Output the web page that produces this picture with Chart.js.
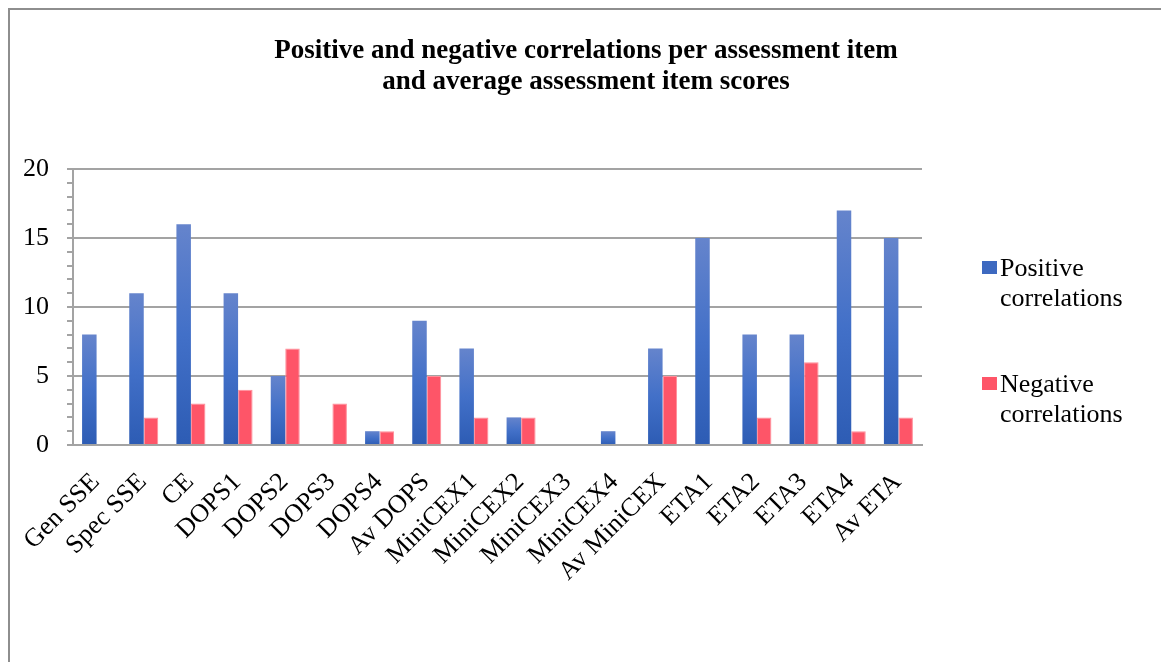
<!DOCTYPE html>
<html>
<head>
<meta charset="utf-8">
<script src="https://cdn.jsdelivr.net/npm/chart.js@4/dist/chart.umd.min.js"></script>
<style>
  html, body { margin: 0; padding: 0; background: #fff; overflow: hidden; }
  #wrap { position: relative; width: 1161px; height: 662px; }
  #frame { position: absolute; left: 8px; top: 8px; width: 1300px; height: 800px; border: 2px solid #8e8e8e; box-sizing: border-box; }
  #HChart { position: absolute; left: 0; top: 0; }
</style>
</head>
<body>
<div id="wrap">
  <div id="frame"></div>
  <canvas id="HChart" width="1161" height="662"></canvas>
</div>
<script>
var items = ['Gen SSE', 'Spec SSE', 'CE', 'DOPS1', 'DOPS2', 'DOPS3', 'DOPS4', 'Av DOPS',
  'MiniCEX1', 'MiniCEX2', 'MiniCEX3', 'MiniCEX4', 'Av MiniCEX', 'ETA1', 'ETA2', 'ETA3', 'ETA4', 'Av ETA']
var positive = [8, 11, 16, 11, 5, 0, 1, 9, 7, 2, 0, 1, 7, 15, 8, 8, 17, 15]
var negative = [0, 2, 3, 4, 7, 3, 1, 5, 2, 2, 0, 0, 5, 0, 2, 6, 1, 2]
var seriesNames = ['Positive correlations', 'Negative correlations']
var titleLines = ['Positive and negative correlations per assessment item', 'and average assessment item scores']

var SERIF = "'Liberation Serif', 'Times New Roman', serif"
var GRID = '#a3a3a3'

// each blue bar gets its own top-to-bottom shading
function blueFill(c){
    var chart = c.chart
    if(!chart.chartArea || c.type !== 'data') return '#3d69c0'
    var y = chart.scales.y
    var top = y.getPixelForValue(c.raw)
    var bottom = y.getPixelForValue(0)
    if(bottom - top < 1) return '#2f5db5'
    var grad = chart.ctx.createLinearGradient(0, top, 0, bottom)
    grad.addColorStop(0, '#6584cc')
    grad.addColorStop(0.5, '#4270c8')
    grad.addColorStop(1, '#2d5cb4')
    return grad
}

// title centred on the whole frame, not just the plot
var frameTitle = {
    id: 'frameTitle',
    afterDraw: function(chart){
        var ctx = chart.ctx
        ctx.save()
        ctx.font = 'bold 27px ' + SERIF
        ctx.fillStyle = '#000'
        ctx.textAlign = 'center'
        ctx.textBaseline = 'alphabetic'
        titleLines.forEach(function(line, i){
            ctx.fillText(line, 586, 58 + i * 31)
        })
        ctx.restore()
    }
}

// legend on the right, each name wrapped word by word
var sideLegend = {
    id: 'sideLegend',
    afterDraw: function(chart){
        var ctx = chart.ctx
        var area = chart.chartArea
        var x = area.right + 60
        var y0 = area.top + 99
        ctx.save()
        ctx.font = '26px ' + SERIF
        ctx.textBaseline = 'middle'
        ctx.textAlign = 'left'
        chart.data.datasets.forEach(function(ds, i){
            var y = y0 + i * 116
            ctx.fillStyle = ds.legendColor
            ctx.fillRect(x, y - 7, 15, 13)
            ctx.fillStyle = '#000'
            ds.label.split(' ').forEach(function(word, j){
                ctx.fillText(word, x + 18, y + 1 + j * 30)
            })
        })
        ctx.restore()
    }
}

var ctx = HChart.getContext('2d')
var chart = new Chart(ctx, {
    type: 'bar',
    data: {
        labels: items,
        datasets: [
            {label: seriesNames[0], data: positive, backgroundColor: blueFill, legendColor: '#3d69c0',
             categoryPercentage: 0.615, barPercentage: 1},
            {label: seriesNames[1], data: negative, backgroundColor: '#fe5568', legendColor: '#fe5568',
             borderColor: '#ff8e99', borderWidth: function(c){ return c.raw ? 1 : 0 }, borderSkipped: 'bottom',
             categoryPercentage: 0.615, barPercentage: 1}
        ]
    },
    options: {
        responsive: false,
        animation: false,
        devicePixelRatio: 1,
        layout: {padding: {top: 169, left: 0, right: 239, bottom: 0}},
        plugins: {
            legend: {display: false},
            tooltip: {enabled: false},
            title: {display: false}
        },
        scales: {
            x: {
                grid: {display: false, drawTicks: false},
                border: {display: true, color: GRID, width: 2},
                ticks: {
                    color: '#000',
                    font: {family: SERIF, size: 26},
                    maxRotation: 45,
                    minRotation: 45,
                    autoSkip: false,
                    padding: 22,
                    labelOffset: -1
                },
                afterFit: function(s){ s.height = 217 }
            },
            y: {
                min: 0,
                max: 20,
                grid: {
                    color: function(c){ return c.tick && c.tick.value % 5 === 0 ? GRID : 'rgba(0,0,0,0)' },
                    tickColor: GRID,
                    tickLength: 6,
                    lineWidth: 2
                },
                border: {display: true, color: GRID, width: 2},
                ticks: {
                    stepSize: 1,
                    autoSkip: false,
                    color: '#000',
                    padding: 18,
                    font: {family: SERIF, size: 26},
                    callback: function(v){ return v % 5 === 0 ? v : '' }
                },
                afterFit: function(s){ s.width = 73 }
            }
        }
    },
    plugins: [frameTitle, sideLegend]
})
</script>
</body>
</html>
